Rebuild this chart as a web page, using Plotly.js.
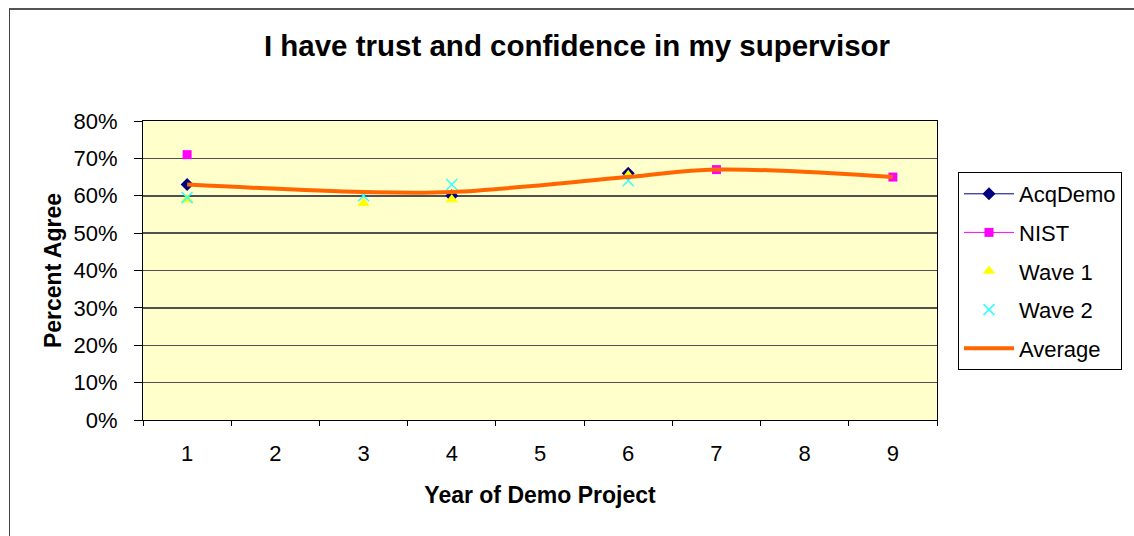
<!DOCTYPE html>
<html>
<head>
<meta charset="utf-8">
<script src="https://cdn.plot.ly/plotly-3.0.1.min.js"></script>
<style>
  html, body { margin: 0; padding: 0; background: #fff; overflow: hidden; }
  #frame { position: absolute; left: 9px; top: 8px; width: 1200px; height: 600px;
           border-left: 1px solid #444; border-top: 2px solid #555; box-sizing: border-box; }
  #chart { position: absolute; left: 0; top: 0; width: 1134px; height: 536px; }
</style>
</head>
<body>
<div id="frame"></div>
<div id="chart"></div>
<script>
const years = ['1', '2', '3', '4', '5', '6', '7', '8', '9'];
const acqDemo = [63, null, null, 60, null, 66, null, null, null];
const nist    = [71, null, null, null, null, null, 67, null, 65];
const wave1   = [59, null, 58, 59, null, 65.5, null, null, null];
const wave2   = [59.5, null, 60, 63, null, 64, null, null, null];
const average = [63, null, 61, 61, null, 65, 67, null, 65];

const FONT = 'Liberation Sans, Arial, sans-serif';

const traces = [
  { name: 'AcqDemo', x: years, y: acqDemo, type: 'scatter', mode: 'lines+markers',
    line: { color: '#000080', width: 1 }, marker: { symbol: 'diamond', color: '#000080', size: 10 },
    connectgaps: false, legendgroup: 'a' },
  { name: 'NIST', x: years, y: nist, type: 'scatter', mode: 'lines+markers',
    line: { color: '#FF00FF', width: 1 }, marker: { symbol: 'square', color: '#FF00FF', size: 9 },
    connectgaps: false, legendgroup: 'b' },
  { name: 'Wave 1', x: years, y: wave1, type: 'scatter', mode: 'markers',
    marker: { symbol: 'triangle-up', color: '#FFFF00', size: 11 }, legendgroup: 'c' },
  { name: 'Wave 2', x: years, y: wave2, type: 'scatter', mode: 'markers',
    marker: { symbol: 'x-thin', size: 11, line: { color: '#33FFFF', width: 1.5 } }, legendgroup: 'd' },
  { name: 'Average', x: years, y: average, type: 'scatter', mode: 'lines',
    line: { color: '#FF6600', width: 4, shape: 'spline', smoothing: 1 },
    connectgaps: true, legendgroup: 'e' }
];

const layout = {
  width: 1134, height: 536,
  margin: { l: 143, r: 197, t: 121, b: 116 },
  paper_bgcolor: 'rgba(0,0,0,0)',
  plot_bgcolor: '#FFFFCC',
  font: { family: FONT, color: '#000', size: 22 },
  title: { text: '<b>I have trust and confidence in my supervisor</b>',
           font: { family: FONT, size: 29.5, color: '#000' },
           x: 577 / 1134, xanchor: 'center', xref: 'container',
           y: 1 - 46 / 536, yanchor: 'middle', yref: 'container' },
  xaxis: {
    type: 'category', categoryorder: 'array', categoryarray: years,
    range: [-0.5, 8.5],
    tickson: 'boundaries', ticks: 'outside', ticklen: 5, tickcolor: '#000',
    ticklabelstandoff: 14,
    showgrid: false, showline: true, linecolor: '#000', linewidth: 1, mirror: true,
    tickfont: { size: 22 },
    title: { text: '<b>Year of Demo Project</b>', font: { size: 23 }, standoff: 21 },
    zeroline: false, fixedrange: true
  },
  yaxis: {
    range: [0, 80], dtick: 10, ticksuffix: '%',
    ticks: 'outside', ticklen: 8, tickcolor: '#000',
    ticklabelstandoff: 12,
    showgrid: true, gridcolor: '#505050', gridwidth: 1.5,
    showline: true, linecolor: '#000', linewidth: 1, mirror: true,
    tickfont: { size: 22 },
    title: { text: '<b>Percent Agree</b>', font: { size: 23 }, standoff: 5 },
    zeroline: false, fixedrange: true
  },
  showlegend: true,
  legend: {
    x: (958 - 143) / 794, xanchor: 'left',
    y: (420 - 172) / 299, yanchor: 'top',
    bgcolor: '#fff', bordercolor: '#000', borderwidth: 1,
    font: { size: 22, family: FONT },
    traceorder: 'grouped', tracegroupgap: 7,
    itemwidth: 50
  }
};

Plotly.newPlot('chart', traces, layout, { staticPlot: true, displayModeBar: false });
</script>
</body>
</html>
